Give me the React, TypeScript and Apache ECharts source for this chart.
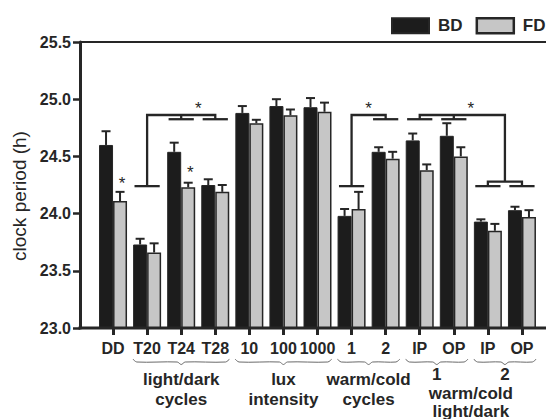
import React, { useEffect, useRef } from "react";
import * as echarts from "echarts";

const categories = ["DD", "T20", "T24", "T28", "10", "100", "1000", "1", "2", "IP", "OP", "IP", "OP"];
const bdValues = [24.6, 23.73, 24.54, 24.25, 24.88, 24.94, 24.93, 23.98, 24.54, 24.64, 24.68, 23.93, 24.03];
const bdErrors = [0.12, 0.05, 0.08, 0.05, 0.06, 0.06, 0.08, 0.06, 0.04, 0.06, 0.11, 0.02, 0.03];
const fdValues = [24.11, 23.66, 24.23, 24.19, 24.79, 24.86, 24.89, 24.04, 24.48, 24.38, 24.5, 23.85, 23.97];
const fdErrors = [0.08, 0.08, 0.04, 0.06, 0.03, 0.05, 0.08, 0.15, 0.06, 0.05, 0.08, 0.06, 0.06];
const yMin = 23.0;
const yMax = 25.5;
const yStep = 0.5;

const groups = [
  { from: 1, to: 3, label: "light/dark\ncycles" },
  { from: 4, to: 6, label: "lux\nintensity" },
  { from: 7, to: 8, label: "warm/cold\ncycles" },
  { from: 9, to: 10, label: "1" },
  { from: 11, to: 12, label: "2" },
];
const superGroup = { from: 9, to: 12, label: "warm/cold\nlight/dark" };

// significance stars above FD bars: [category index, value]
const barStars = [
  [0, 24.3],
  [2, 24.39],
];
// bracket levels (h)
const LOW = 24.24;
const MID = 24.28;
const SUB = 24.825;
const TOP = 24.862;
const STAR = 24.956;

const FONT = "'Liberation Sans', Arial, Helvetica, sans-serif";
const INK = "#262626";
const W = 546;
const H = 419;
const GRID_LEFT = 96;
const Y_OFFSET = 16;
const BAR_W = 14;

export default function App() {
  const ref = useRef<HTMLDivElement>(null);
  useEffect(() => {
    if (!ref.current) return;
    const chart = echarts.init(ref.current, null, { renderer: "svg" });
    const errSeries = (vals: number[], errs: number[], side: number, name: string) => ({
      type: "custom",
      name: name + "err",
      z: 5,
      silent: true,
      data: vals.map((v, i) => [i, v, errs[i]]),
      encode: { x: 0, y: 1 },
      renderItem: (params: any, api: any) => {
        const i = api.value(0);
        const v = api.value(1);
        const e = api.value(2);
        const base = api.coord([i, v]);
        const top = api.coord([i, v + e]);
        const x = base[0] + (side * BAR_W) / 2;
        const st = { stroke: INK, lineWidth: 2 };
        return {
          type: "group",
          children: [
            { type: "line", shape: { x1: x, y1: base[1], x2: x, y2: top[1] }, style: st },
            { type: "line", shape: { x1: x - 4.5, y1: top[1], x2: x + 4.5, y2: top[1] }, style: st },
          ],
        };
      },
    });
    const option: any = {
      animation: false,
      grid: { left: GRID_LEFT, right: 7, top: 42, bottom: 91, outerBoundsMode: "none" },
      legend: {
        orient: "horizontal",
        left: 391,
        top: 17,
        width: 240,
        padding: 0,
        itemWidth: 37,
        itemHeight: 15,
        itemGap: 13,
        icon: "rect",
        textStyle: { fontFamily: FONT, fontSize: 17, fontWeight: "bold", color: INK, padding: [0, 0, 0, 4] },
        data: [
          { name: "BD" },
          { name: "FD", itemStyle: { borderWidth: 2.5, borderColor: INK } },
        ],
      },
      xAxis: {
        type: "category",
        data: categories,
        axisLine: { show: false },
        axisTick: { show: true, alignWithLabel: true, length: 7, lineStyle: { width: 3, color: INK } },
        axisLabel: { interval: 0, margin: 12, fontFamily: FONT, fontSize: 16, fontWeight: "bold", color: INK },
        splitLine: { show: false },
      },
      yAxis: {
        type: "value",
        min: yMin,
        max: yMax,
        interval: yStep,
        offset: Y_OFFSET,
        name: "clock period (h)",
        nameLocation: "middle",
        nameGap: 49,
        nameTextStyle: { fontFamily: FONT, fontSize: 19, color: INK, padding: [0, 22, 0, 0] },
        axisLine: { show: true, lineStyle: { width: 3, color: INK } },
        axisTick: { show: true, length: 7, lineStyle: { width: 2.5, color: INK } },
        axisLabel: {
          margin: 9,
          fontFamily: FONT,
          fontSize: 16,
          fontWeight: "bold",
          color: INK,
          formatter: (v: number) => v.toFixed(1),
        },
        splitLine: { show: false },
      },
      series: [
        {
          type: "bar",
          name: "BD",
          data: bdValues,
          barWidth: BAR_W,
          barGap: "0%",
          itemStyle: { color: "#1c1c1c", borderColor: INK, borderWidth: 1 },
        },
        {
          type: "bar",
          name: "FD",
          data: fdValues,
          barWidth: BAR_W,
          barGap: "0%",
          itemStyle: { color: "#c6c6c6", borderColor: INK, borderWidth: 1.5 },
        },
        errSeries(bdValues, bdErrors, -1, "BD"),
        errSeries(fdValues, fdErrors, 1, "FD"),
      ],
    };
    chart.setOption(option);

    const p0 = chart.convertToPixel({ gridIndex: 0 }, [0, yMin]) as number[];
    const p1 = chart.convertToPixel({ gridIndex: 0 }, [1, yMin]) as number[];
    const band = p1[0] - p0[0];
    const xAt = (f: number) => p0[0] + f * band;
    const yAt = (v: number) => (chart.convertToPixel({ gridIndex: 0 }, [0, v]) as number[])[1];
    const axisY = yAt(yMin);
    const axisX = GRID_LEFT - Y_OFFSET;
    const half = 0.37 * band;
    const g: any[] = [];
    const line = (pts: number[][], width = 2.3, color = INK) =>
      g.push({ type: "polyline", silent: true, z: 10, shape: { points: pts }, style: { stroke: color, lineWidth: width, fill: "none" } });
    const groupLine = (i: number, v: number) => line([[xAt(i) - half, yAt(v)], [xAt(i) + half, yAt(v)]]);
    const star = (x: number, v: number) =>
      g.push({
        type: "text",
        silent: true,
        z: 10,
        x,
        y: yAt(v) + 4,
        style: { text: "*", fontFamily: FONT, fontSize: 17, fill: INK, align: "center", verticalAlign: "middle" },
      });

    // axis frame lines
    line([[axisX - 1.5, axisY], [W, axisY]], 3);
    line([[axisX, yAt(yMax)], [W, yAt(yMax)]], 2.2);

    // bracket 1: T20 vs T24/T28
    groupLine(1, LOW);
    line([[xAt(1), yAt(LOW)], [xAt(1), yAt(TOP)], [xAt(3), yAt(TOP)], [xAt(3), yAt(SUB)]]);
    line([[xAt(2), yAt(TOP)], [xAt(2), yAt(SUB)]]);
    groupLine(2, SUB);
    groupLine(3, SUB);
    star(xAt(2.5), STAR);
    // bracket 2: warm/cold 1 vs 2
    groupLine(7, LOW);
    line([[xAt(7), yAt(LOW)], [xAt(7), yAt(TOP)], [xAt(8), yAt(TOP)], [xAt(8), yAt(SUB)]]);
    groupLine(8, SUB);
    star(xAt(7.5), STAR);
    // bracket 3: warm/cold light/dark 1 vs 2
    groupLine(9, SUB);
    groupLine(10, SUB);
    line([[xAt(9), yAt(SUB)], [xAt(9), yAt(TOP)], [xAt(11.5), yAt(TOP)], [xAt(11.5), yAt(MID)]]);
    line([[xAt(10), yAt(SUB)], [xAt(10), yAt(TOP)]]);
    line([[xAt(11), yAt(LOW)], [xAt(11), yAt(MID)], [xAt(12), yAt(MID)], [xAt(12), yAt(LOW)]]);
    groupLine(11, LOW);
    groupLine(12, LOW);
    star(xAt(10.5), STAR);
    // stars over FD bars
    barStars.forEach(([i, v]) => star(xAt(i) + BAR_W / 2 + 2, v));

    // braces and group labels
    const brace = (a: number, b: number) => {
      const x1 = xAt(a) - 0.42 * band;
      const x2 = xAt(b) + 0.42 * band;
      const m = (x1 + x2) / 2;
      const yb = axisY + 34;
      g.push({
        type: "polyline",
        silent: true,
        shape: {
          points: [[x1, yb - 3], [x1 + 4, yb], [m - 4, yb], [m, yb + 2.5], [m + 4, yb], [x2 - 4, yb], [x2, yb - 3]],
          smooth: 0.3,
        },
        style: { stroke: "#6a6a6a", lineWidth: 1, fill: "none" },
      });
    };
    const label = (x: number, y: number, text: string, lh: number) =>
      g.push({
        type: "text",
        silent: true,
        x,
        y,
        style: { text, fontFamily: FONT, fontSize: 17, fontWeight: "bold", fill: INK, align: "center", verticalAlign: "top", lineHeight: lh },
      });
    groups.forEach((gr) => {
      brace(gr.from, gr.to);
      const single = gr.label.indexOf("\n") < 0;
      if (single) label(xAt((gr.from + gr.to) / 2), axisY + 37.5, gr.label, 17);
      else label(xAt((gr.from + gr.to) / 2), axisY + 41, gr.label, 20);
    });
    label(xAt((superGroup.from + superGroup.to) / 2), axisY + 56, superGroup.label, 18);

    chart.setOption({ graphic: g });
    return () => chart.dispose();
  }, []);
  return <div ref={ref} style={{ width: W, height: H, position: "absolute", left: 0, top: 0 }} />;
}
